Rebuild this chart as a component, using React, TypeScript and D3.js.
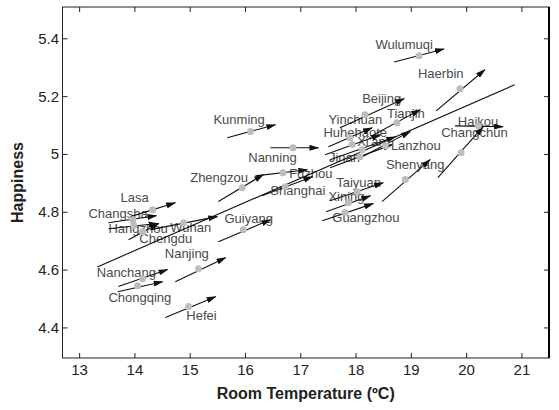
import React from "react";
import * as d3 from "d3";

const cities = ["Wulumuqi","Haerbin","Beijing","Tianjin","Yinchuan","Huhehaote","Xi'an","Jinan","Lanzhou","Shenyang","Haikou","Changchun","Kunming","Nanning","Zhengzou","Fuzhou","Shanghai","Taiyuan","Xining","Guangzhou","Lasa","Changsha","Hangzhou","Wuhan","Chengdu","Guiyang","Nanjing","Nanchang","Chongqing","Hefei"];
const temp = [19.14,19.88,18.16,18.74,17.89,17.93,18.11,18.07,18.53,18.89,20.21,19.90,16.09,16.86,15.94,16.68,16.72,18.02,17.86,17.80,14.32,13.96,13.98,14.88,14.14,15.96,15.15,14.14,14.05,14.97];
const happiness = [5.341,5.227,5.137,5.110,5.058,5.034,5.016,4.992,5.030,4.913,5.099,5.006,5.079,5.023,4.885,4.937,4.888,4.871,4.833,4.799,4.809,4.774,4.754,4.764,4.733,4.740,4.605,4.570,4.546,4.474];
const arrowTempFrom = [18.69,19.45,17.71,18.29,17.50,17.44,17.53,17.53,18.11,18.47,19.79,19.48,15.67,16.45,15.51,16.18,16.30,17.53,17.46,17.39,13.92,13.52,13.52,14.28,13.885,15.51,14.73,13.70,13.69,14.55];
const arrowHappyFrom = [5.320,5.151,5.092,5.065,5.027,4.999,4.982,4.954,4.992,4.837,5.099,4.920,5.058,5.023,4.837,4.926,4.857,4.840,4.802,4.771,4.785,4.764,4.743,4.740,4.705,4.698,4.560,4.543,4.525,4.436];
const arrowTempTo = [19.59,20.33,18.87,19.16,18.29,18.44,18.71,18.65,18.98,19.34,20.66,20.30,16.54,17.32,16.32,17.12,17.21,18.49,18.26,18.31,14.73,14.39,14.41,15.49,14.43,16.45,15.64,14.59,14.50,15.46];
const arrowHappyTo = [5.365,5.293,5.193,5.155,5.092,5.068,5.061,5.034,5.079,4.982,5.096,5.096,5.103,5.023,4.930,4.947,4.923,4.902,4.857,4.830,4.833,4.788,4.761,4.785,4.761,4.774,4.643,4.602,4.560,4.508];
const labelTemp = [18.35,19.12,18.11,18.56,17.50,17.41,18.02,17.51,18.63,18.54,19.84,19.54,15.42,16.05,15.00,16.79,16.45,17.64,17.50,17.57,13.74,13.16,13.52,14.64,14.08,15.62,14.54,13.31,13.52,14.93];
const labelHappy = [5.365,5.265,5.179,5.127,5.106,5.061,5.030,4.975,5.016,4.950,5.099,5.061,5.106,4.975,4.906,4.920,4.860,4.888,4.840,4.767,4.837,4.781,4.730,4.733,4.695,4.764,4.643,4.577,4.490,4.428];
const trendTemp = [13.32, 20.87];
const trendHappy = [4.611, 5.241];
const xTicks = [13,14,15,16,17,18,19,20,21];
const yTicks = [4.4,4.6,4.8,5.0,5.2,5.4];
const xDomain = [12.69, 21.49];
const yDomain = [4.296, 5.51];

export default function App() {
  const W = 559, H = 410;
  const L = 62.5, R = 549, T = 7, B = 358;
  const x = d3.scaleLinear().domain(xDomain).range([L, R]);
  const y = d3.scaleLinear().domain(yDomain).range([B, T]);
  const line = d3.line<[number, number]>().x(d => x(d[0])).y(d => y(d[1]));
  const font = "'Liberation Sans', Arial, sans-serif";
  const tickLen = 5;
  return (
    <svg width={W} height={H} style={{ position: "absolute", left: 0, top: 0, background: "#fff" }} fontFamily={font}>
      <defs>
        <marker id="ah" viewBox="0 0 10 6" refX="9" refY="3" markerWidth="10" markerHeight="6" markerUnits="userSpaceOnUse" orient="auto">
          <path d="M0,0 L10,3 L0,6 Z" fill="#111" />
        </marker>
      </defs>
      {/* frame */}
      <rect x={L} y={T} width={R - L} height={B - T} fill="none" stroke="#222" strokeWidth={1} />
      <line x1={R} x2={R} y1={T} y2={B} stroke="#000" strokeWidth={2} />
      {xTicks.map(t => (
        <g key={"xt" + t}>
          <line x1={x(t)} x2={x(t)} y1={B} y2={B - tickLen} stroke="#222" />
          <line x1={x(t)} x2={x(t)} y1={T} y2={T + tickLen} stroke="#222" />
          <text x={x(t)} y={375} textAnchor="middle" fontSize={15} fill="#222">{t}</text>
        </g>
      ))}
      {yTicks.map(t => (
        <g key={"yt" + t}>
          <line x1={L} x2={L + tickLen} y1={y(t)} y2={y(t)} stroke="#222" />
          <line x1={R} x2={R - tickLen} y1={y(t)} y2={y(t)} stroke="#222" />
          <text x={59} y={y(t) + 5} textAnchor="end" fontSize={15} fill="#222">{d3.format("")(+t.toFixed(1))}</text>
        </g>
      ))}
      <text x={(L + R) / 2} y={399} textAnchor="middle" fontSize={16} fontWeight="bold" fill="#222">Room Temperature (ºC)</text>
      <text transform={`translate(23,${(T + B) / 2}) rotate(-90)`} textAnchor="middle" fontSize={16} fontWeight="bold" fill="#222">Happiness</text>
      {/* labels */}
      {cities.map((c, i) => (
        <text key={"lb" + c} x={x(labelTemp[i])} y={y(labelHappy[i])} fontSize={13} fill="#4a4a4a">{c}</text>
      ))}
      {/* trend line */}
      <path d={line([[trendTemp[0], trendHappy[0]], [trendTemp[1], trendHappy[1]]]) || ""} stroke="#111" strokeWidth={1.1} fill="none" />
      {/* arrows */}
      {cities.map((c, i) => (
        <path key={"ar" + c} d={line([[arrowTempFrom[i], arrowHappyFrom[i]], [arrowTempTo[i], arrowHappyTo[i]]]) || ""} stroke="#111" strokeWidth={1.1} fill="none" markerEnd="url(#ah)" />
      ))}
      {/* dots */}
      {cities.map((c, i) => (
        <circle key={"dt" + c} cx={x(temp[i])} cy={y(happiness[i])} r={3.5} fill="#bdbdbd" />
      ))}
    </svg>
  );
}
